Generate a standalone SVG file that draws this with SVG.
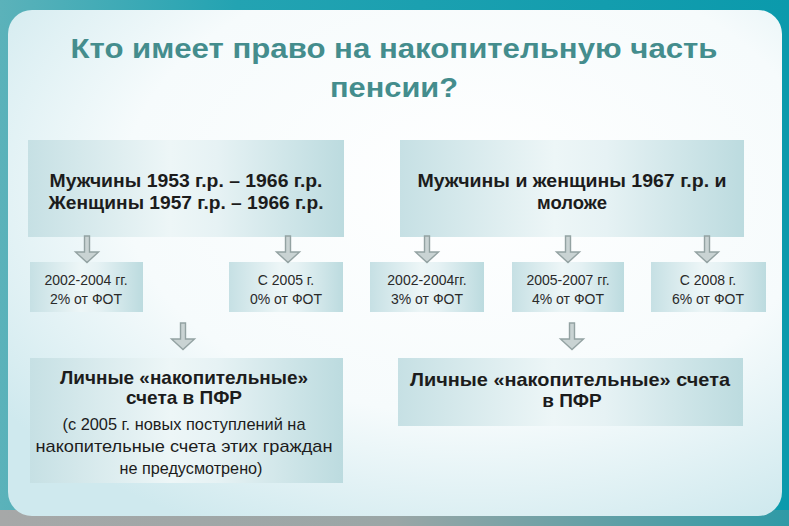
<svg xmlns="http://www.w3.org/2000/svg" width="789" height="526" viewBox="0 0 789 526">
  <defs>
    <linearGradient id="frame" x1="0" y1="0" x2="1" y2="0">
      <stop offset="0" stop-color="#5bb2ba"/>
      <stop offset="0.3" stop-color="#23a3b2"/>
      <stop offset="1" stop-color="#0b9aac"/>
    </linearGradient>
    <linearGradient id="bottomband" x1="0" y1="0" x2="1" y2="0">
      <stop offset="0" stop-color="#a6a8a8"/>
      <stop offset="0.5" stop-color="#9aa6a6"/>
      <stop offset="1" stop-color="#2f9aa6"/>
    </linearGradient>
    <radialGradient id="panel" cx="0.6" cy="0.35" r="0.75">
      <stop offset="0" stop-color="#ffffff"/>
      <stop offset="0.6" stop-color="#f6fbfc"/>
      <stop offset="1" stop-color="#cfe9ee"/>
    </radialGradient>
    <linearGradient id="box" x1="0" y1="0" x2="1" y2="0">
      <stop offset="0" stop-color="#c6e0e4"/>
      <stop offset="0.45" stop-color="#edf6f7"/>
      <stop offset="0.6" stop-color="#e6f2f4"/>
      <stop offset="1" stop-color="#bcdbdf"/>
    </linearGradient>
    <path id="arrow" d="M-2.5,0 h5 v16 h9 l-11.5,10.5 l-11.5,-10.5 h9 z"/>
    <style>
      .box { fill: url(#box); }
      .arr { fill: #c9d3d3; stroke: #93a2a2; stroke-width: 1.4; stroke-linejoin: miter; }
      .title { font-family: "Liberation Sans", Arial, sans-serif; font-weight: bold; font-size: 27px; fill: #448d8d; text-anchor: middle; }
      .big { font-family: "Liberation Sans", Arial, sans-serif; font-weight: bold; font-size: 18.5px; fill: #1c1c1c; text-anchor: middle; }
      .acc { font-family: "Liberation Sans", Arial, sans-serif; font-weight: bold; font-size: 19px; fill: #1c1c1c; text-anchor: middle; }
      .small { font-family: "Liberation Sans", Arial, sans-serif; font-size: 14px; fill: #2a2a2a; text-anchor: middle; }
      .note { font-family: "Liberation Sans", Arial, sans-serif; font-size: 17px; fill: #1c1c1c; text-anchor: middle; }
    </style>
  </defs>

  <!-- frame -->
  <rect x="0" y="0" width="789" height="526" fill="url(#frame)"/>
  <rect x="0" y="510" width="789" height="16" fill="url(#bottomband)"/>
  <rect x="8" y="10" width="774" height="506" rx="24" fill="url(#panel)"/>

  <g id="title">
    <text class="title" x="394" y="58" textLength="647" lengthAdjust="spacingAndGlyphs">Кто имеет право на накопительную часть</text>
    <text class="title" x="394" y="97" textLength="128" lengthAdjust="spacingAndGlyphs">пенсии?</text>
  </g>

  <g id="group1953">
    <rect class="box" x="28" y="140" width="316" height="97"/>
    <text class="big" x="186" y="187" textLength="273" lengthAdjust="spacingAndGlyphs">Мужчины 1953 г.р. – 1966 г.р.</text>
    <text class="big" x="186" y="209" textLength="275" lengthAdjust="spacingAndGlyphs">Женщины 1957 г.р. – 1966 г.р.</text>
  </g>

  <g id="group1967">
    <rect class="box" x="400" y="140" width="344" height="97"/>
    <text class="big" x="572" y="187" textLength="309" lengthAdjust="spacingAndGlyphs">Мужчины и женщины 1967 г.р. и</text>
    <text class="big" x="572" y="209">моложе</text>
  </g>

  <g id="rate-2002-2004-a">
    <rect class="box" x="30" y="262" width="113" height="50"/>
    <text class="small" x="86" y="285">2002-2004 гг.</text>
    <text class="small" x="86" y="304">2% от ФОТ</text>
  </g>

  <g id="rate-2005-a">
    <rect class="box" x="229" y="262" width="114" height="50"/>
    <text class="small" x="286" y="285">С 2005 г.</text>
    <text class="small" x="286" y="304">0% от ФОТ</text>
  </g>

  <g id="rate-2002-2004-b">
    <rect class="box" x="370" y="262" width="114" height="50"/>
    <text class="small" x="427" y="285">2002-2004гг.</text>
    <text class="small" x="427" y="304">3% от ФОТ</text>
  </g>

  <g id="rate-2005-2007">
    <rect class="box" x="512" y="262" width="112" height="50"/>
    <text class="small" x="568" y="285">2005-2007 гг.</text>
    <text class="small" x="568" y="304">4% от ФОТ</text>
  </g>

  <g id="rate-2008">
    <rect class="box" x="651" y="262" width="115" height="50"/>
    <text class="small" x="708" y="285">С 2008 г.</text>
    <text class="small" x="708" y="304">6% от ФОТ</text>
  </g>

  <g id="accounts-left">
    <rect class="box" x="30" y="358" width="313" height="125"/>
    <text class="acc" x="184" y="384" textLength="248" lengthAdjust="spacingAndGlyphs">Личные «накопительные»</text>
    <text class="acc" x="184" y="404">счета в ПФР</text>
    <text class="note" x="184" y="430" textLength="243" lengthAdjust="spacingAndGlyphs">(с 2005 г. новых поступлений на</text>
    <text class="note" x="184" y="452" textLength="297" lengthAdjust="spacingAndGlyphs">накопительные счета этих граждан</text>
    <text class="note" x="191" y="474" textLength="143" lengthAdjust="spacingAndGlyphs">не предусмотрено)</text>
  </g>

  <g id="accounts-right">
    <rect class="box" x="398" y="358" width="345" height="68"/>
    <text class="acc" x="570" y="386" textLength="320" lengthAdjust="spacingAndGlyphs">Личные «накопительные» счета</text>
    <text class="acc" x="572" y="407">в ПФР</text>
  </g>

  <g id="connectors">
    <use href="#arrow" class="arr" x="87" y="236"/>
    <use href="#arrow" class="arr" x="288" y="236"/>
    <use href="#arrow" class="arr" x="427" y="236"/>
    <use href="#arrow" class="arr" x="568" y="236"/>
    <use href="#arrow" class="arr" x="707" y="236"/>
    <use href="#arrow" class="arr" x="183" y="323"/>
    <use href="#arrow" class="arr" x="572" y="323"/>
  </g>
</svg>
